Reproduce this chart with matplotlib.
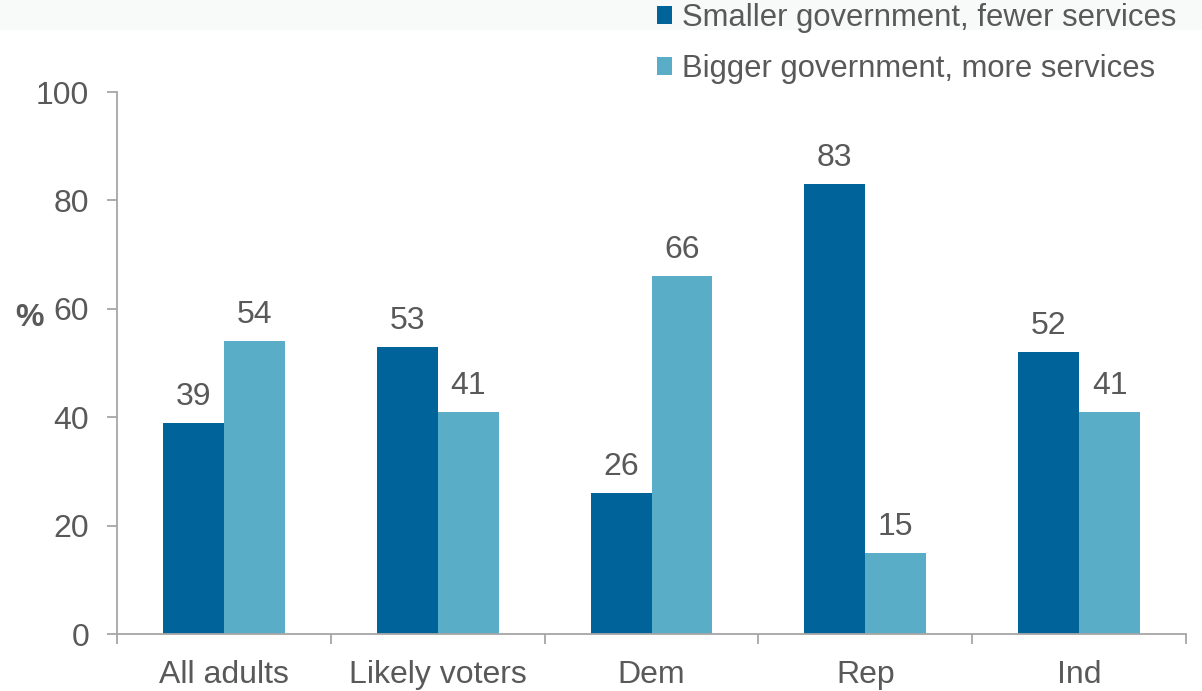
import matplotlib
matplotlib.use("Agg")
import matplotlib.pyplot as plt
import numpy as np
from matplotlib.patches import Rectangle

categories = ["All adults", "Likely voters", "Dem", "Rep", "Ind"]
smaller = [39, 53, 26, 83, 52]
bigger = [54, 41, 66, 15, 41]
series_names = ["Smaller government, fewer services", "Bigger government, more services"]
yticks = [0, 20, 40, 60, 80, 100]

dark = "#00649a"
light = "#5aadc6"
txt = "#595959"
axc = "#a6a6a6"
FS = 23

plt.rcParams['font.family'] = ['Liberation Sans', 'DejaVu Sans']

fig = plt.figure(figsize=(12.02, 6.91), dpi=100)
# faint band at top
fig.patches.append(Rectangle((0, 1 - 30/691), 1, 30/691, transform=fig.transFigure,
                             facecolor="#f8f9f9", edgecolor="none", zorder=0))
ax = fig.add_axes([117/1202, 1 - 634/691, (1186 - 117)/1202, (634 - 92)/691])
ax.set_facecolor("none")

x = np.arange(len(categories))
w = 0.285
b1 = ax.bar(x - w/2, smaller, w, color=dark, label=series_names[0])
b2 = ax.bar(x + w/2, bigger, w, color=light, label=series_names[1])

for bars, vals in ((b1, smaller), (b2, bigger)):
    for r, v in zip(bars, vals):
        ax.annotate(f"{v}", (r.get_x() + r.get_width()/2, v), xytext=(0, 8),
                    textcoords="offset points", ha="center", va="bottom",
                    fontsize=FS, color=txt)

ax.set_xlim(-0.5, len(categories) - 0.5)
ax.set_ylim(0, 100)
ax.set_yticks(yticks)
ax.set_yticklabels([str(t) for t in yticks])
ax.set_xticks(x)
ax.set_xticklabels(categories)
ax.set_xticks(np.arange(-0.5, len(categories)), minor=True)
ax.tick_params(axis="x", which="major", length=0, pad=19, labelsize=FS, labelcolor=txt)
ax.tick_params(axis="x", which="minor", length=7, width=1.3, color=axc, direction="out")
ax.tick_params(axis="y", length=7, width=1.3, color=axc, pad=13, labelsize=FS, labelcolor=txt)

for s in ("top", "right"):
    ax.spines[s].set_visible(False)
for s in ("left", "bottom"):
    ax.spines[s].set_color(axc)
    ax.spines[s].set_linewidth(1.3)

fig.text(30/1202, 1 - 318/691, "%", fontsize=FS, fontweight="bold", color=txt,
         ha="center", va="center")

leg = fig.legend(handles=[b1, b2], labels=series_names, loc="upper right",
                 bbox_to_anchor=(1176/1202, 1 - 3/691), frameon=False, fontsize=22.3,
                 handlelength=0.5, handleheight=0.5, handletextpad=0.3,
                 labelspacing=0.68, borderaxespad=0, borderpad=0)
for t in leg.get_texts():
    t.set_color(txt)

fig.savefig("out.png", dpi=100)
